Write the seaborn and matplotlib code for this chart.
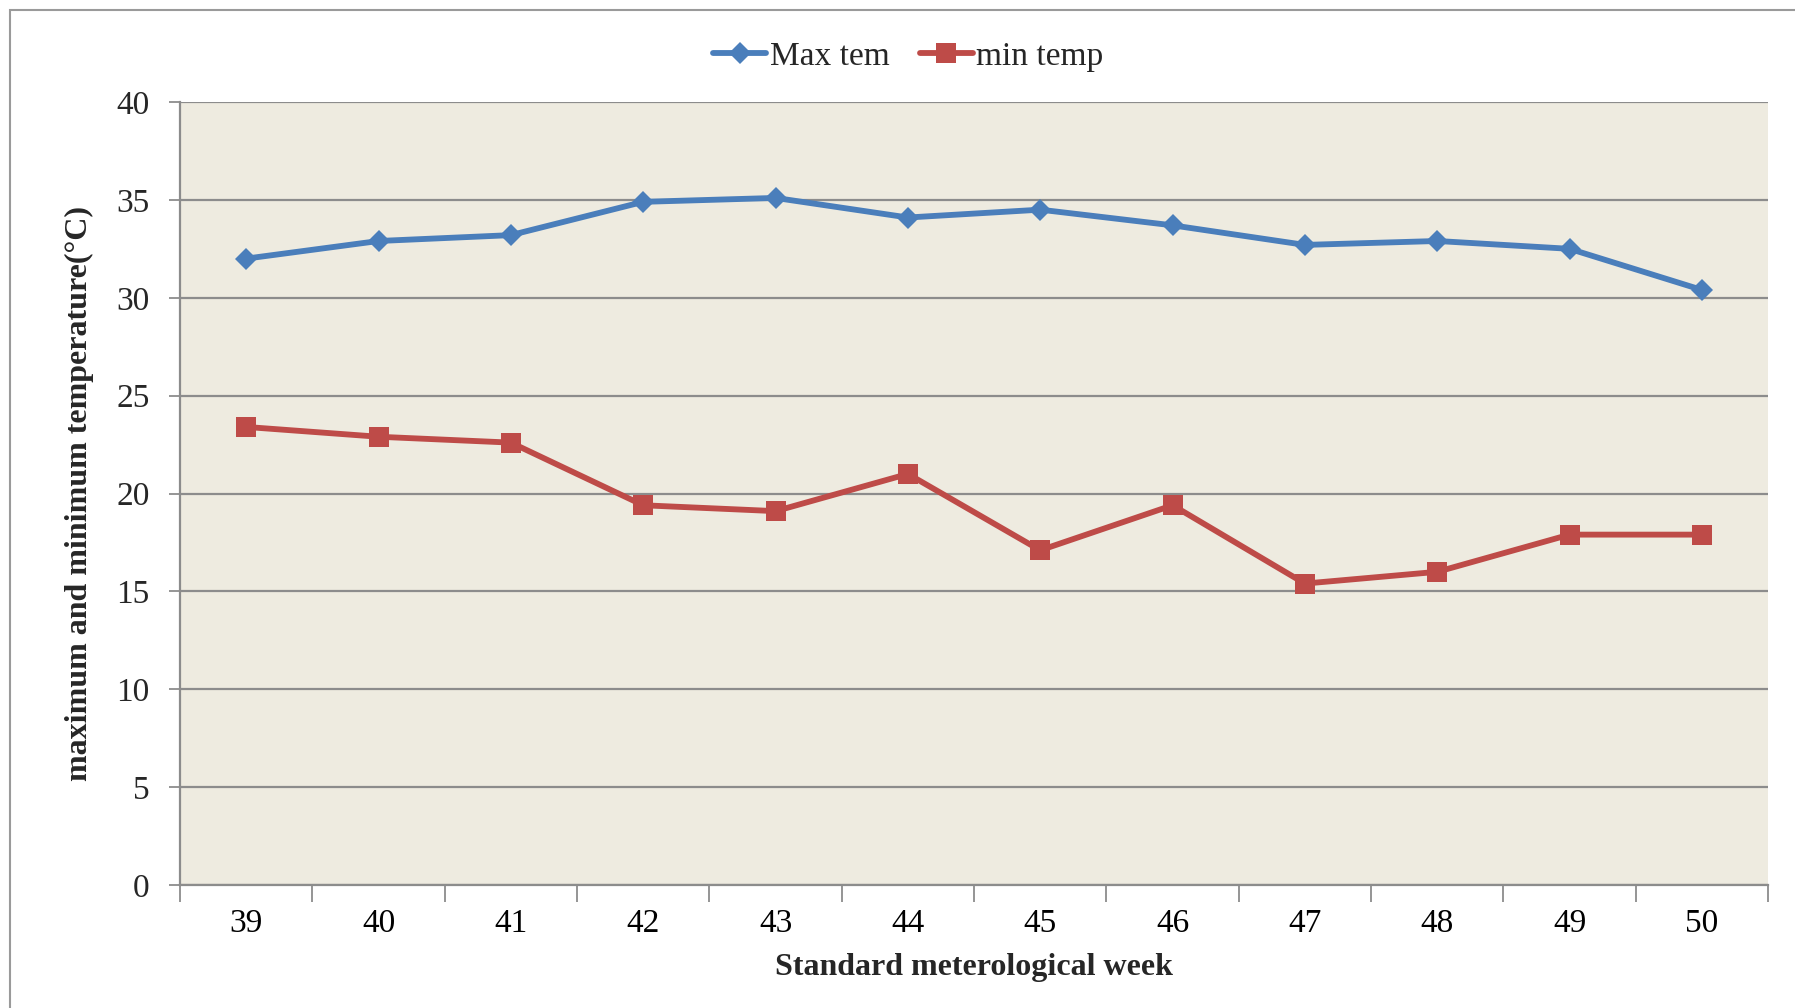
import matplotlib
matplotlib.use("Agg")
import matplotlib.pyplot as plt
import seaborn as sns
import pandas as pd
from matplotlib.patches import Rectangle
from matplotlib.lines import Line2D

# Weekly temperature data
weeks = ["39", "40", "41", "42", "43", "44", "45", "46", "47", "48", "49", "50"]
max_temp = [32.0, 32.9, 33.2, 34.9, 35.1, 34.1, 34.5, 33.7, 32.7, 32.9, 32.5, 30.4]
min_temp = [23.4, 22.9, 22.6, 19.4, 19.1, 21.0, 17.1, 19.4, 15.4, 16.0, 17.9, 17.9]
series_names = ["Max tem", "min temp"]

sns.set_theme(style="white")
plt.rcParams["font.family"] = ["Liberation Serif", "DejaVu Serif"]

pos = list(range(len(weeks)))
df = pd.DataFrame({
    "pos": pos * 2,
    "value": max_temp + min_temp,
    "series": [series_names[0]] * len(weeks) + [series_names[1]] * len(weeks),
})

blue = "#4A7EBB"
red = "#BE4B48"
grid_col = "#8C8C8C"
lw = 4.2

fig = plt.figure(figsize=(17.95, 10.08), dpi=100)
ax = fig.add_axes([0.1003, 0.122, 0.8847, 0.7768])
ax.set_facecolor("#EEEBE0")

sns.lineplot(data=df[df.series == series_names[0]], x="pos", y="value",
             color=blue, linewidth=lw, marker="D", markersize=11.5,
             markeredgewidth=0, ax=ax, label=series_names[0], zorder=4)
sns.lineplot(data=df[df.series == series_names[1]], x="pos", y="value",
             color=red, linewidth=lw, marker="s", markersize=14,
             markeredgewidth=0, ax=ax, label=series_names[1], zorder=4)

ax.set_xlim(-0.5, len(weeks) - 0.5)
ax.set_ylim(0, 40)
ax.set_yticks(range(0, 41, 5))
ax.yaxis.grid(True, color=grid_col, linewidth=1.6)
ax.xaxis.grid(False)
ax.set_axisbelow(True)

ax.set_xticks(pos)
ax.set_xticklabels(weeks)
ax.set_xticks([p - 0.5 for p in pos] + [len(weeks) - 0.5], minor=True)
ax.tick_params(axis="x", which="major", length=0, pad=17, labelsize=24, colors="black")
ax.tick_params(axis="x", which="minor", length=12, width=1.3, color=grid_col, bottom=True)
ax.tick_params(axis="y", which="major", length=8, width=1.3, color=grid_col, pad=14,
               labelsize=24, left=True)

for side in ["top", "right"]:
    ax.spines[side].set_visible(False)
for side in ["left", "bottom"]:
    ax.spines[side].set_color(grid_col)
    ax.spines[side].set_linewidth(1.6)

ax.set_xlabel("Standard meterological week", fontsize=23, fontweight="bold", labelpad=10)
ax.set_ylabel("maximum and minimum temperature(°C)", fontsize=23, fontweight="bold", labelpad=16)

handles = [
    Line2D([], [], color=blue, linewidth=lw, marker="D", markersize=11.5, markeredgewidth=0),
    Line2D([], [], color=red, linewidth=lw, marker="s", markersize=14, markeredgewidth=0),
]
ax.get_legend().remove()
fig.legend(handles, series_names, loc="center", bbox_to_anchor=(0.506, 0.944), ncol=2,
           frameon=False, fontsize=24, handlelength=1.6, handletextpad=0.1,
           columnspacing=0.9)

# chart frame
fig.patches.append(Rectangle((10 / 1795, -0.5), 1.5, 1.5 - 10 / 1008,
                             transform=fig.transFigure, fill=False,
                             edgecolor="#9A9A9A", linewidth=1.5))

fig.savefig("out.png", dpi=100, facecolor="white")
